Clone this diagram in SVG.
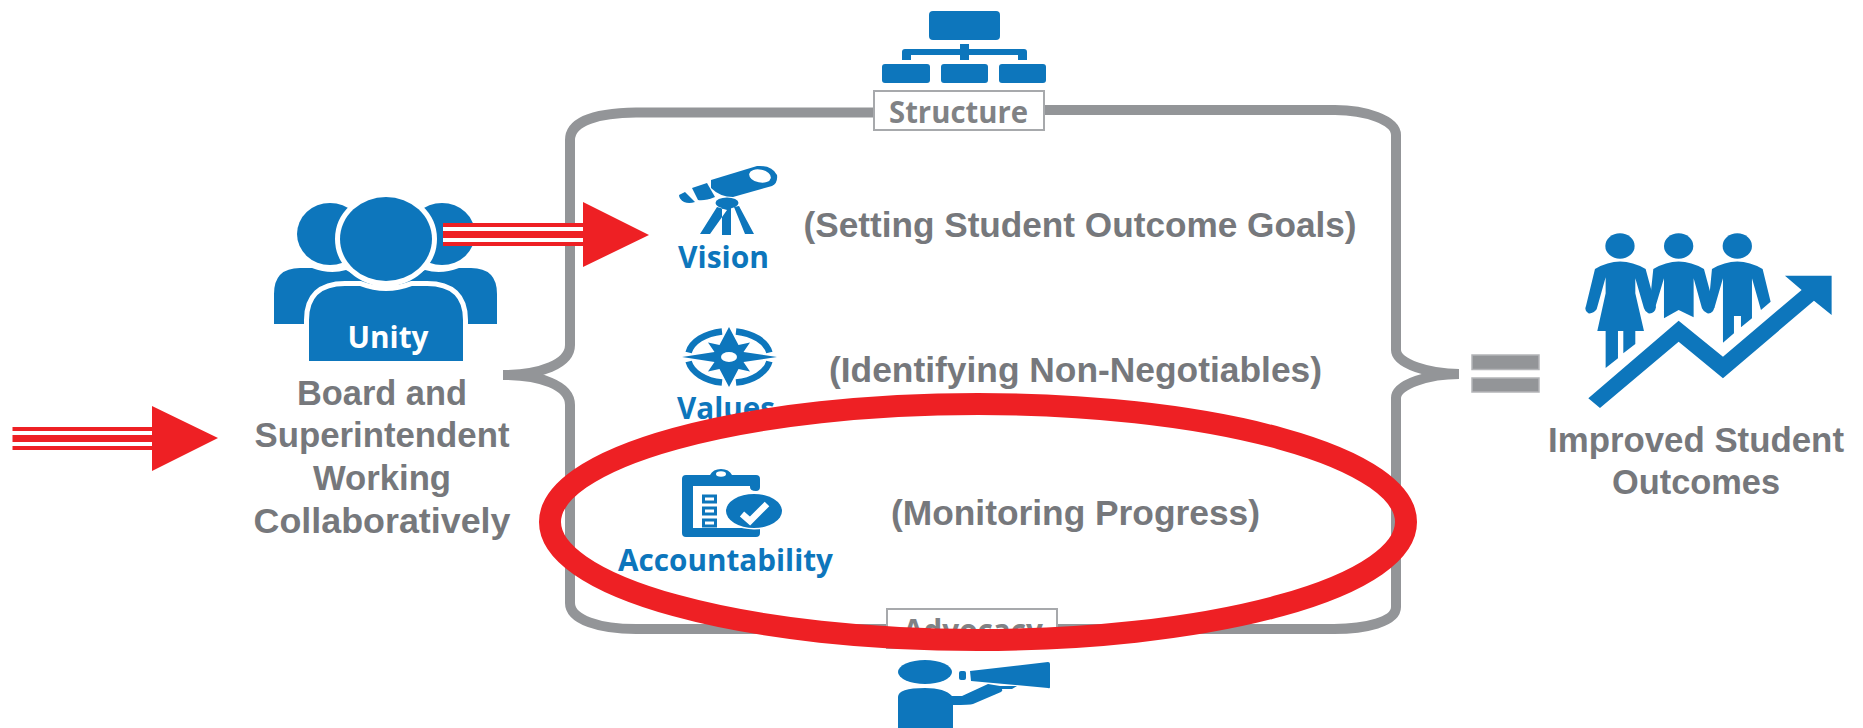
<svg xmlns="http://www.w3.org/2000/svg" width="1863" height="728" viewBox="0 0 1863 728">
<style>
.g{font-family:"Liberation Sans",Arial,sans-serif;font-weight:700;fill:#76787c;font-size:34.5px}
.c{font-family:"Open Sans","Noto Sans",sans-serif;font-weight:700}
.b{fill:#0d76bc}
.red{fill:#ee2024}
.box{fill:#fff;stroke:#a7a9ac;stroke-width:2}
.lab{fill:#808285;font-size:31px}
.bl{fill:#0d76bc;font-size:30px}
.halo{stroke:#fff;stroke-width:10;paint-order:stroke}
</style>
<rect width="1863" height="728" fill="#fff"/>
<g id="connectors">
<path id="frame" fill="none" stroke="#939598" stroke-width="10" d="M880,112.500 H636 C600,113 570,120 570,140 V345 C570,364 540,375 503,375 C540,375 570,385 570,405 V603 C570,620 600,629 636,629 H1334 C1365,629 1396,622 1396,607 V398 C1396,384 1430,374 1459,374 C1430,374 1396,364 1396,350 V135 C1396,120 1365,110 1335,110 H1040"/>
</g>
<g id="node-structure">
<rect class="b" x="929" y="11" width="71" height="29" rx="4"/>
<rect class="b" x="882" y="64" width="48" height="19" rx="3"/>
<rect class="b" x="941" y="64" width="47" height="19" rx="3"/>
<rect class="b" x="999" y="64" width="47" height="19" rx="3"/>
<path class="b" d="M960,44 H969 V49 H1024 Q1027,49 1027,52 V60 H1018 V55 H969 V60 H960 V55 H911 V60 H902 V52 Q902,49 905,49 H960 Z"/>
<rect class="box" x="874" y="91" width="170" height="39"/>
<text class="c lab" x="958.500" y="123" text-anchor="middle" textLength="139" lengthAdjust="spacingAndGlyphs">Structure</text>
</g>
<g id="node-advocacy">
<rect class="box" x="887" y="609" width="170" height="39"/>
<text class="c lab" x="973" y="641" text-anchor="middle" textLength="140" lengthAdjust="spacingAndGlyphs">Advocacy</text>
<ellipse class="b" cx="925" cy="672" rx="27" ry="12"/>
<rect class="b" x="959" y="671" width="7" height="9" rx="2"/>
<path class="b" d="M970,671 L1048,662 Q1050,662 1050,664 V687 Q1050,689 1048,688 L971,681 Z"/>
<path class="b" d="M898,728 V697 Q898,688 925,688 Q945,688 952,696 H962 L988,684 L1000,686 L1017,686 L1012,689 L1002,689 Q1003,691 1001,692 L973,704 Q970,705 953,705 V728 Z"/>
</g>
<g id="node-unity">
<ellipse class="b" cx="330" cy="234" rx="33" ry="31"/>
<ellipse class="b" cx="442" cy="234" rx="33" ry="31"/>
<path class="b" d="M274,324 V294 Q274,268 300,268 H312 Q330,275 346,270 L400,300 V324 Z"/>
<path class="b" d="M497,324 V294 Q497,268 471,268 H459 Q441,275 425,270 L371,300 V324 Z"/>
<path class="b halo" d="M309,361 V320 Q309,286 345,286 H360 Q386,296 412,286 H427 Q463,286 463,320 V361 Z"/>
<ellipse class="b halo" cx="386" cy="239" rx="46" ry="42"/>
<rect x="300" y="361" width="172" height="8" fill="#fff"/>
<text class="c" x="388" y="348" text-anchor="middle" font-size="30" fill="#fff" textLength="81" lengthAdjust="spacingAndGlyphs">Unity</text>
<text class="g" x="382" y="405" text-anchor="middle" textLength="170" lengthAdjust="spacingAndGlyphs">Board and</text>
<text class="g" x="382" y="447" text-anchor="middle" textLength="255" lengthAdjust="spacingAndGlyphs">Superintendent</text>
<text class="g" x="382" y="490" text-anchor="middle" textLength="138" lengthAdjust="spacingAndGlyphs">Working</text>
<text class="g" x="382" y="533" text-anchor="middle" textLength="257" lengthAdjust="spacingAndGlyphs">Collaboratively</text>
</g>
<g id="node-vision">
<path class="b" d="M711,180 L757,166 Q772,165 777,175 Q778,183 772,186 L733,197 Q720,197 711,188 Z"/>
<ellipse cx="760" cy="176" rx="11" ry="6.500" fill="#fff" transform="rotate(12 760 176)"/>
<path class="b" d="M692,188 L707,183 L715,197 Q705,201 698,200 Z"/>
<path class="b" d="M679,195 L685,192 L695,202 Q689,204 684,202 Q679,199 679,195 Z"/>
<ellipse class="b" cx="727" cy="203" rx="11.500" ry="5.500"/>
<path class="b" d="M717,207 L700,234 H710 L727,210 Z M722,208 H731 V235 H722 Z M734,207 L745,234 H754 L739,206 Z"/>
<text class="c bl" x="723.500" y="268" text-anchor="middle" textLength="91" lengthAdjust="spacingAndGlyphs">Vision</text>
<text class="g" x="1080" y="237" text-anchor="middle" textLength="553" lengthAdjust="spacingAndGlyphs">(Setting Student Outcome Goals)</text>
</g>
<g id="node-values">
<path fill="none" stroke="#0d76bc" stroke-width="6.500" d="M688.6,352.500 A41,26 0 0 1 722,331.4 M736,331.4 A41,26 0 0 1 769.4,352.500 M769.4,361.500 A41,26 0 0 1 736,382.6 M722,382.6 A41,26 0 0 1 688.6,361.500"/>
<path class="b" stroke="#fff" stroke-width="3" paint-order="stroke" d="M729,327 L738.500,345 L750,342.500 L743.500,352 L777,357 L743.500,362 L750,371.500 L738.500,369 L729,387 L719.500,369 L708,371.500 L714.500,362 L682,357 L714.500,352 L708,342.500 L719.500,345 Z"/>
<ellipse cx="729" cy="357" rx="8" ry="5" fill="#fff"/>
<text class="c bl" x="726" y="419" text-anchor="middle" textLength="98" lengthAdjust="spacingAndGlyphs">Values</text>
<text class="g" x="1075.500" y="382" text-anchor="middle" textLength="493" lengthAdjust="spacingAndGlyphs">(Identifying Non-Negotiables)</text>
</g>
<g id="node-accountability">
<path class="b" d="M686,475 H710 Q713,469 721,469 Q729,469 732,475 H756 Q760,475 760,479 V487 Q760,491 756,491 Q750,491 750,487 V486 H733 Q730,486 727,486 H703 Q701,486 693,486 V528 H754 L760,528 V533 Q760,537 756,537 H686 Q682,537 682,533 V479 Q682,475 686,475 Z"/>
<ellipse cx="721" cy="474" rx="5" ry="2.700" fill="#fff"/>
<g fill="#fff" stroke="#0d76bc" stroke-width="3">
<rect x="703.500" y="496" width="12" height="6"/>
<rect x="703.500" y="508" width="12" height="6"/>
<rect x="703.500" y="520" width="12" height="6"/>
</g>
<ellipse class="b" cx="754" cy="511" rx="28" ry="17" style="stroke:#fff;stroke-width:3;paint-order:stroke"/>
<path fill="none" stroke="#fff" stroke-width="6.500" d="M742,514 L750,521 L767,504"/>
<text class="c bl" x="725.500" y="571" text-anchor="middle" textLength="215" lengthAdjust="spacingAndGlyphs">Accountability</text>
<text class="g" x="1075.500" y="525" text-anchor="middle" textLength="369" lengthAdjust="spacingAndGlyphs">(Monitoring Progress)</text>
</g>
<g id="node-equals">
<rect x="1472" y="355" width="67" height="14.500" fill="#939598" stroke="#b4b5b8" stroke-width="1.500"/>
<rect x="1472" y="378" width="67" height="14" fill="#939598" stroke="#b4b5b8" stroke-width="1.500"/>
</g>
<g id="node-outcomes">
<g transform="translate(1380 200) scale(.3333)">
<ellipse class="b" cx="720" cy="138" rx="44" ry="38"/>
<ellipse class="b" cx="896" cy="138" rx="44" ry="38"/>
<ellipse class="b" cx="1072" cy="138" rx="44" ry="38"/>
<path class="b" d="M645,207 Q720,162 797,207 L828,322 Q825,342 805,340 Q795,335 792,325 L766,235 V280 L792,393 H766 V432 L730,460 V393 H714 V475 L677,504 V393 H652 L677,280 V232 L650,328 Q640,342 625,340 Q612,332 618,318 Z"/>
<path class="b" d="M820,207 Q896,162 972,207 L1003,322 Q1000,342 982,340 Q970,335 966,325 L941,235 V352 L896,330 L852,355 V235 L825,325 L808,322 Z"/>
<path class="b" d="M996,207 Q1072,162 1148,207 L1172,305 L1143,330 L1116,235 V355 L1083,382 V348 H1062 V400 L1029,428 V235 L1003,325 L985,322 Z"/>
<path class="b" d="M625,595 L896,362 L1029,470 L1265,270 L1215,227 H1355 V345 L1302,302 L1029,535 L896,425 L660,624 Z"/>
</g>
<text class="g" x="1696" y="452" text-anchor="middle" textLength="296" lengthAdjust="spacingAndGlyphs">Improved Student</text>
<text class="g" x="1696" y="494" text-anchor="middle" textLength="168" lengthAdjust="spacingAndGlyphs">Outcomes</text>
</g>
<g id="arrows">
<rect x="12.500" y="427" width="140" height="23" fill="#fff"/>
<rect class="red" x="12.500" y="427" width="140" height="4"/>
<rect class="red" x="12.500" y="435" width="140" height="7"/>
<rect class="red" x="12.500" y="446" width="140" height="4"/>
<polygon class="red" points="152,406 218,438 152,471"/>
<rect x="443" y="223" width="140" height="23" fill="#fff"/>
<rect class="red" x="443" y="223" width="140" height="4"/>
<rect class="red" x="443" y="231" width="140" height="7"/>
<rect class="red" x="443" y="242" width="140" height="4"/>
<polygon class="red" points="583,202 649,235 583,267"/>
</g>
<ellipse id="highlight" cx="978" cy="522" rx="428" ry="118" fill="none" stroke="#ee2024" stroke-width="22"/>
</svg>
